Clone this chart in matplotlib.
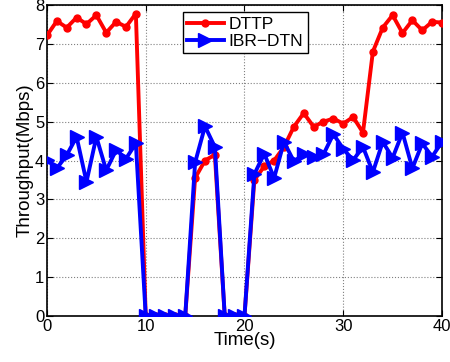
import matplotlib
matplotlib.use("Agg")
import matplotlib.pyplot as plt

plt.rcParams['font.family'] = ['Liberation Sans', 'DejaVu Sans']

time_s = list(range(0, 41))
dttp = [7.22, 7.59, 7.42, 7.68, 7.51, 7.74, 7.29, 7.57, 7.44, 7.78,
        0, 0, 0, 0, 0, 3.55, 4.0, 4.15, 0, 0,
        0, 3.5, 3.85, 4.0, 4.35, 4.87, 5.22, 4.87, 5.0, 5.08,
        4.95, 5.12, 4.72, 6.8, 7.42, 7.74, 7.28, 7.61, 7.35, 7.57, 7.55]
ibr_dtn = [4.01, 3.8, 4.14, 4.61, 3.45, 4.61, 3.75, 4.27, 4.05, 4.44,
           0, 0, 0, 0, 0, 3.95, 4.88, 4.35, 0, 0,
           0, 3.65, 4.18, 3.55, 4.48, 3.98, 4.16, 4.1, 4.16, 4.68,
           4.3, 4.01, 4.35, 3.7, 4.48, 4.07, 4.72, 3.8, 4.44, 4.1, 4.48]

fig = plt.figure(figsize=(4.5, 3.62), dpi=100)
ax = fig.add_axes([0.1044, 0.127, 0.8778, 0.859])

ax.plot(time_s, dttp, color='red', marker='o', markersize=5, linewidth=2.8, label='DTTP', zorder=3)
ax.plot(time_s, ibr_dtn, color='blue', marker='>', markersize=10, linewidth=2.8, label='IBR\u2212DTN', zorder=4)

ax.set_xlim(0, 40)
ax.set_ylim(0, 8)
ax.set_xticks([0, 10, 20, 30, 40])
ax.set_yticks(range(0, 9))
ax.tick_params(direction='in', labelsize=12, top=True, right=True, length=4, pad=2)
ax.grid(True, linestyle=':', color='gray', linewidth=0.8)
for s in ax.spines.values():
    s.set_linewidth(1.2)

ax.set_xlabel('Time(s)', fontsize=13.5, labelpad=-1)
ax.set_ylabel('Throughput(Mbps)', fontsize=13.5, labelpad=1)

leg = ax.legend(loc='upper left', bbox_to_anchor=(0.344, 0.977), borderaxespad=0,
                fontsize=12.5, fancybox=False, framealpha=1, edgecolor='black',
                handlelength=2.1, borderpad=0.25, labelspacing=0.1, handletextpad=0.3)
leg.get_frame().set_linewidth(1.0)

fig.savefig('out.png', dpi=100)
